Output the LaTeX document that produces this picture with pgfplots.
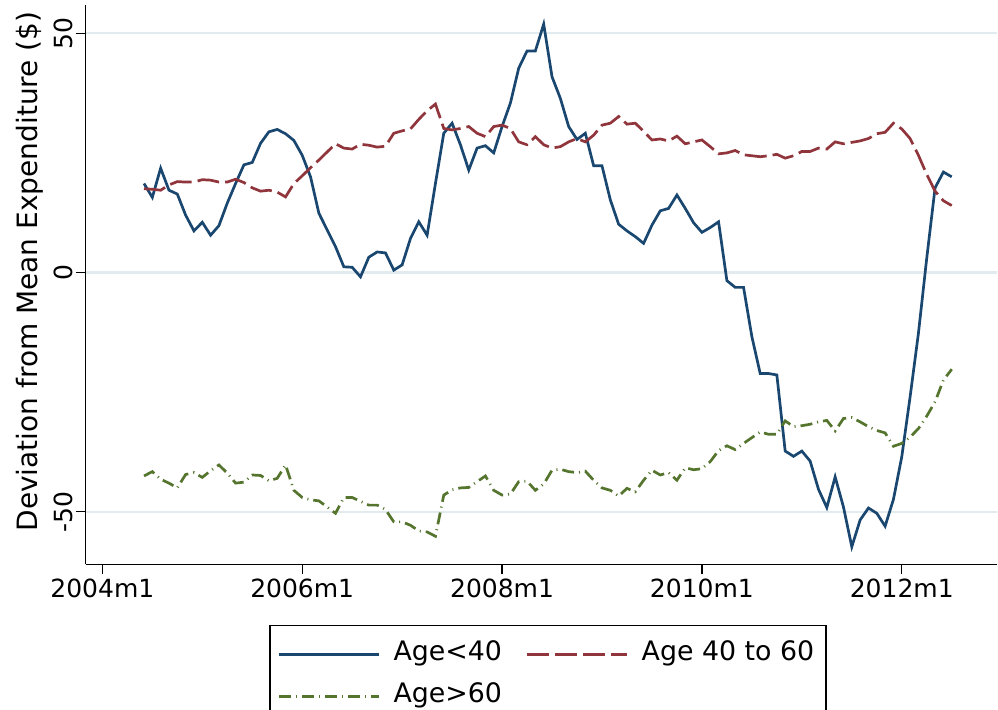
\documentclass[border=0pt]{standalone}
\usepackage{pgfplots}
\pgfplotsset{compat=1.18}
\usepackage{pgfplotstable}
\usepackage{fontspec}
\setmainfont{DejaVu Sans}
\definecolor{snavy}{RGB}{26,71,111}
\definecolor{smaroon}{RGB}{144,53,59}
\definecolor{sgreen}{RGB}{85,117,47}
\definecolor{gridc}{RGB}{226,235,238}

\pgfplotstableread{
m y
5 18.6
6 15.7
7 21.8
8 17.2
9 16.4
10 12.0
11 8.7
12 10.5
13 7.8
14 9.8
15 14.5
16 18.6
17 22.5
18 23.0
19 27.0
20 29.4
21 29.9
22 29.0
23 27.6
24 24.5
25 20.0
26 12.4
27 8.9
28 5.4
29 1.2
30 1.1
31 -0.9
32 3.2
33 4.3
34 4.1
35 0.5
36 1.6
37 7.1
38 10.6
39 7.8
40 18.6
41 29.1
42 31.2
43 26.7
44 21.4
45 26.0
46 26.5
47 25.0
48 30.5
49 35.4
50 42.7
51 46.3
52 46.3
53 51.9
54 40.9
55 36.4
56 30.5
57 27.8
58 29.1
59 22.3
60 22.3
61 15.2
62 10.1
63 8.7
64 7.5
65 6.1
66 9.9
67 12.9
68 13.4
69 16.2
70 13.4
71 10.4
72 8.4
73 9.4
74 10.6
75 -1.7
76 -3.1
77 -3.1
78 -13.4
79 -21.1
80 -21.1
81 -21.4
82 -37.3
83 -38.4
84 -37.3
85 -39.4
86 -45.3
87 -49.1
88 -42.7
89 -49.0
90 -57.3
91 -51.7
92 -49.2
93 -50.3
94 -53.0
95 -47.4
96 -38.5
97 -26.0
98 -12.7
99 3.0
100 17.7
101 21.0
102 20.0
}\young

\pgfplotstableread{
m y
5 17.5
6 17.4
7 17.2
8 18.3
9 19.0
10 18.9
11 18.9
12 19.4
13 19.3
14 18.9
15 18.9
16 19.5
17 18.8
18 17.7
19 17.0
20 17.2
21 16.8
22 15.8
23 18.6
24 20.2
25 21.9
26 23.5
27 25.2
28 26.9
29 26.0
30 25.8
31 26.8
32 26.6
33 26.2
34 26.4
35 29.1
36 29.6
37 30.0
38 32.0
39 33.8
40 35.2
41 30.1
42 29.8
43 30.1
44 30.5
45 29.1
46 28.4
47 30.5
48 30.8
49 30.1
50 27.3
51 26.7
52 28.4
53 26.7
54 26.0
55 26.3
56 27.3
57 28.0
58 27.3
59 28.7
60 30.8
61 31.2
62 32.6
63 31.0
64 31.2
65 29.5
66 27.7
67 27.9
68 27.5
69 28.5
70 26.9
71 27.3
72 27.7
73 26.3
74 24.8
75 25.0
76 25.5
77 24.6
78 24.4
79 24.2
80 24.4
81 24.7
82 23.9
83 24.4
84 25.3
85 25.3
86 26.0
87 25.8
88 27.3
89 26.9
90 27.2
91 27.5
92 28.0
93 29.0
94 29.3
95 31.2
96 30.0
97 28.0
98 24.5
99 20.5
100 17.0
101 15.0
102 14.0
}\middle

\pgfplotstableread{
m y
5 -42.5
6 -41.6
7 -43.2
8 -44.0
9 -45.0
10 -42.2
11 -41.8
12 -42.8
13 -41.4
14 -40.2
15 -41.9
16 -44.0
17 -43.8
18 -42.3
19 -42.4
20 -43.5
21 -43.0
22 -40.2
23 -45.5
24 -47.0
25 -47.5
26 -47.7
27 -49.0
28 -50.3
29 -47.0
30 -47.0
31 -47.8
32 -48.6
33 -48.6
34 -49.5
35 -52.1
36 -52.1
37 -52.8
38 -54.0
39 -54.2
40 -55.1
41 -46.5
42 -45.4
43 -45.0
44 -44.9
45 -43.7
46 -42.5
47 -45.5
48 -46.5
49 -46.3
50 -43.7
51 -43.6
52 -45.5
53 -44.2
54 -41.3
55 -41.1
56 -41.6
57 -41.8
58 -41.5
59 -43.4
60 -45.0
61 -45.5
62 -46.7
63 -45.1
64 -45.8
65 -43.4
66 -41.3
67 -42.3
68 -41.8
69 -43.4
70 -40.8
71 -41.2
72 -41.0
73 -39.5
74 -37.2
75 -36.2
76 -37.0
77 -35.7
78 -34.5
79 -33.3
80 -33.8
81 -33.8
82 -31.0
83 -32.2
84 -32.0
85 -31.7
86 -31.2
87 -30.9
88 -33.1
89 -30.5
90 -30.3
91 -31.2
92 -32.2
93 -33.0
94 -33.5
95 -36.3
96 -35.7
97 -34.4
98 -32.6
99 -30.0
100 -27.0
101 -22.5
102 -20.2
}\old

\begin{document}
\begin{tikzpicture}
\begin{axis}[
  name=ax,
  scale only axis,
  width=455.5pt, height=279.75pt,
  xmin=-2, xmax=107.4, ymin=-61, ymax=55.9,
  axis x line*=bottom, axis y line*=left,
  axis line style={line width=0.7pt, black, -},
  xtick={0,24,48,72,96},
  xticklabels={2004m1,2006m1,2008m1,2010m1,2012m1},
  ytick={-50,0,50}, yticklabels={-50,0,50},
  tick align=outside, major tick length=5pt,
  tick style={line width=0.6pt, black},
  ymajorgrids, grid style={line width=1.2pt, color=gridc},
  ticklabel style={font=\fontsize{12.5}{15}\selectfont},
  yticklabel style={rotate=90, anchor=south, inner sep=1pt},
  xticklabel style={inner sep=2pt},
  ylabel={Deviation from Mean Expenditure (\$)},
  every axis y label/.style={at={(axis description cs:-0.0615,0.5237)}, rotate=90, anchor=center, font=\fontsize{14}{16}\selectfont},
  legend columns=2,
  legend cell align=left,
  legend image code/.code={\draw[#1] (0pt,0pt) -- (50pt,0pt);},
  legend style={at={(0.5075,0)}, anchor=north, yshift=-30.25pt,
    draw=black, line width=0.7pt,
    font=\fontsize{13.4}{15}\selectfont,
    inner xsep=4pt, inner ysep=6pt,
    nodes={inner sep=2pt, text height=9.5pt, text depth=3pt},
    /tikz/every odd column/.append style={column sep=4.5pt},
    /tikz/every even column/.append style={column sep=10pt},
    /tikz/row sep=4.5pt},
]
\addplot[snavy, line width=1.35pt] table[x=m,y=y] {\young};
\addlegendentry{Age<40}
\addplot[smaroon, line width=1.35pt, dash pattern=on 11pt off 3pt] table[x=m,y=y] {\middle};
\addlegendentry{Age 40 to 60}
\addplot[sgreen, line width=1.35pt, dash pattern=on 6pt off 2.5pt on 0.5pt off 2.5pt] table[x=m,y=y] {\old};
\addlegendentry{Age>60}
\end{axis}
\pgfresetboundingbox
\useasboundingbox ([shift={(-42.85pt,-72.75pt)}]ax.south west) rectangle ([shift={(456.15pt,282.25pt)}]ax.south west);
\end{tikzpicture}
\end{document}
